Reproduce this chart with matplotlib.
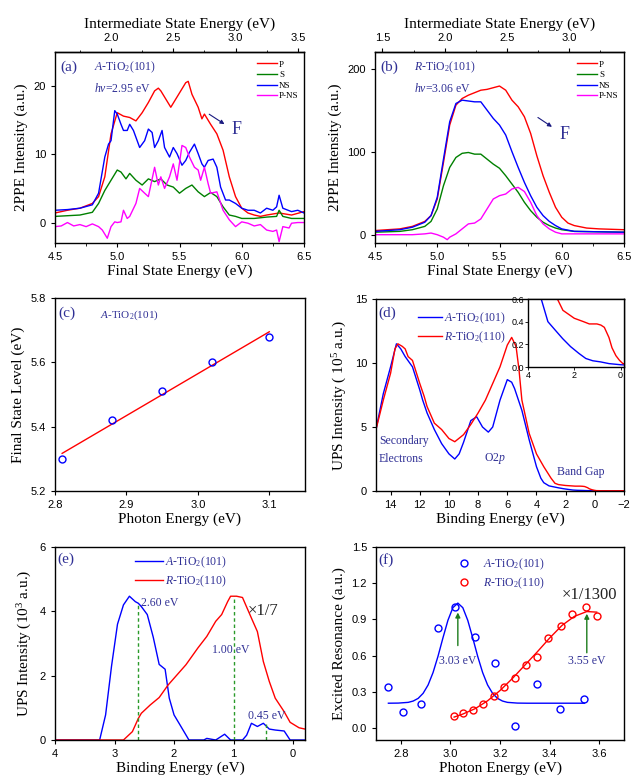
import numpy as np
import matplotlib
matplotlib.use("Agg")
import matplotlib.pyplot as plt

plt.rcParams['font.family'] = ['Liberation Serif', 'DejaVu Serif']
plt.rcParams['mathtext.fontset'] = 'custom'
plt.rcParams['mathtext.rm'] = 'Liberation Serif'
plt.rcParams['mathtext.it'] = 'Liberation Serif:italic'
plt.rcParams['axes.linewidth'] = 1.0

NAVY = '#303095'
DGREEN = '#1c7c1c'

# ---- (a) A-TiO2(101), hv = 2.95 eV ----
hv_a = 2.95
ea_p = [4.5, 4.6, 4.7, 4.8, 4.85, 4.9, 4.95, 5.0, 5.05, 5.1, 5.15, 5.2, 5.25, 5.3, 5.33, 5.35, 5.4, 5.43,
        5.5, 5.55, 5.57, 5.6, 5.65, 5.68, 5.7, 5.75, 5.8, 5.85, 5.9, 5.95, 6.0, 6.05, 6.1, 6.15, 6.2, 6.3, 6.4, 6.5]
a_p = [1.4, 1.8, 2.1, 2.8, 3.8, 6.7, 13.0, 16.1, 15.6, 15.4, 14.9, 16.1, 17.6, 19.3, 19.7, 19.3, 17.8, 16.9,
       19.0, 20.5, 20.7, 18.8, 16.9, 15.2, 15.9, 14.4, 13.0, 10.6, 6.7, 3.8, 2.1, 1.4, 1.1, 0.9, 1.1, 1.4, 1.1, 1.6]
ea_ns = [4.5, 4.6, 4.7, 4.8, 4.85, 4.9, 4.93, 4.95, 4.98, 5.0, 5.03, 5.05, 5.08, 5.1, 5.13, 5.18, 5.22, 5.25,
         5.28, 5.3, 5.33, 5.36, 5.38, 5.42, 5.45, 5.48, 5.52, 5.55, 5.58, 5.62, 5.65, 5.68, 5.7, 5.73, 5.77,
         5.8, 5.83, 5.87, 5.9, 5.95, 6.0, 6.05, 6.1, 6.15, 6.2, 6.25, 6.28, 6.3, 6.33, 6.4, 6.45, 6.5]
a_ns = [1.8, 1.9, 2.1, 2.6, 4.3, 9.6, 11.5, 12.0, 16.4, 15.9, 14.4, 13.5, 13.5, 14.4, 13.5, 11.0, 12.0, 13.7,
        13.2, 11.0, 12.0, 13.5, 11.0, 9.6, 11.0, 10.1, 8.4, 9.1, 10.3, 11.5, 10.1, 8.6, 8.1, 9.1, 9.3,
        8.1, 5.2, 3.3, 3.3, 2.8, 2.1, 1.8, 1.8, 1.4, 2.1, 1.8, 2.3, 4.0, 2.1, 1.6, 1.8, 1.4]
ea_s = [4.5, 4.6, 4.7, 4.8, 4.85, 4.9, 4.95, 5.0, 5.03, 5.07, 5.1, 5.15, 5.2, 5.25, 5.3, 5.35, 5.4, 5.45,
        5.5, 5.55, 5.6, 5.65, 5.7, 5.75, 5.8, 5.85, 5.9, 5.95, 6.0, 6.1, 6.2, 6.28, 6.3, 6.33, 6.4, 6.5]
a_s = [0.9, 1.0, 1.1, 1.5, 2.8, 4.7, 6.2, 7.7, 7.4, 6.4, 7.2, 6.2, 5.5, 6.4, 6.0, 6.4, 5.5, 5.2,
       4.3, 5.0, 5.5, 4.5, 3.8, 4.4, 3.8, 2.3, 1.1, 0.9, 0.6, 0.6, 0.8, 0.9, 1.8, 0.9, 0.6, 0.6]
ea_d = [4.5, 4.55, 4.6, 4.65, 4.7, 4.75, 4.8, 4.85, 4.88, 4.92, 4.95, 4.98, 5.0, 5.03, 5.05, 5.08, 5.1,
        5.15, 5.18, 5.22, 5.25, 5.3, 5.33, 5.35, 5.38, 5.42, 5.45, 5.48, 5.52, 5.55, 5.58, 5.62, 5.65,
        5.67, 5.7, 5.73, 5.75, 5.8, 5.85, 5.9, 5.95, 6.0, 6.05, 6.1, 6.15, 6.2, 6.25, 6.28, 6.3, 6.33,
        6.38, 6.4, 6.45, 6.5]
a_d = [-0.6, -0.5, 0.0, -0.5, -0.3, -0.6, -0.2, -0.6, -1.1, -2.3, -0.6, 0.1, 0.0, 0.1, 1.8, 0.6, 0.9,
       2.8, 5.0, 4.3, 3.8, 8.1, 5.5, 6.7, 5.0, 6.7, 8.6, 6.2, 11.3, 11.0, 9.6, 8.1, 7.7,
       6.2, 8.1, 5.7, 4.3, 4.5, 1.8, 0.4, -0.6, 0.1, -0.1, -0.5, -0.3, -1.1, -1.3, -1.1, -2.8, -0.6,
       -0.8, -0.1, 0.0, 0.0]

# ---- (b) R-TiO2, hv = 3.06 eV ----
hv_b = 3.06
eb_p = [4.5, 4.7, 4.8, 4.9, 4.95, 5.0, 5.05, 5.1, 5.15, 5.2, 5.25, 5.3, 5.35, 5.4, 5.45, 5.5, 5.55, 5.6,
        5.65, 5.7, 5.75, 5.8, 5.85, 5.9, 5.95, 6.0, 6.05, 6.1, 6.2, 6.3, 6.5]
b_p = [5, 7, 10, 16, 23, 43, 87, 132, 156, 164, 168, 171, 174, 175, 177, 179, 174, 162,
       154, 142, 122, 95, 71, 51, 33, 21, 14, 11, 8, 7, 6]
eb_ns = [4.5, 4.7, 4.8, 4.9, 4.95, 5.0, 5.05, 5.1, 5.15, 5.2, 5.25, 5.3, 5.35, 5.4, 5.45, 5.5, 5.55,
         5.6, 5.65, 5.7, 5.75, 5.8, 5.85, 5.9, 5.95, 6.0, 6.1, 6.5]
b_ns = [4, 6, 9, 15, 23, 45, 91, 136, 158, 162, 161, 160, 160, 150, 140, 132, 120,
        100, 81, 63, 47, 33, 23, 16, 11, 7, 4, 3]
eb_s = [4.5, 4.7, 4.8, 4.9, 4.95, 5.0, 5.05, 5.1, 5.15, 5.2, 5.25, 5.3, 5.35, 5.4, 5.45, 5.5, 5.55, 5.6,
        5.65, 5.7, 5.75, 5.8, 5.85, 5.9, 5.95, 6.0, 6.1, 6.5]
b_s = [3, 4, 6, 10, 16, 31, 59, 81, 93, 98, 99, 97, 97, 91, 85, 80, 71, 61,
       51, 39, 29, 21, 15, 11, 8, 6, 4, 3]
eb_d = [4.5, 4.8, 4.9, 4.95, 5.0, 5.05, 5.08, 5.1, 5.15, 5.2, 5.25, 5.3, 5.35, 5.4, 5.45, 5.5, 5.55,
        5.6, 5.65, 5.7, 5.75, 5.8, 5.85, 5.9, 5.95, 6.0, 6.1, 6.5]
b_d = [0, 0, 1, 2, 0, -3, -6, -3, 1, 7, 13, 14, 19, 31, 43, 47, 49,
       55, 57, 52, 39, 23, 13, 7, 3, 1, 1, 1]

# ---- (c) final state level vs photon energy ----
hv_c = [2.81, 2.88, 2.95, 3.02, 3.10]
fs_c = [5.30, 5.42, 5.51, 5.60, 5.68]
fit_c_x = [2.81, 3.10]
fit_c_y = [5.317, 5.695]

# ---- (d) UPS spectra ----
be_a = [15, 14.5, 14, 13.6, 13.3, 13, 12.5, 12, 11.8, 11.5, 11, 10.5, 10, 9.6, 9.3, 9, 8.5, 8.1, 7.7,
        7.3, 7, 6.5, 6, 5.7, 5.5, 5, 4.5, 4, 3.7, 3.5, 3.14, 2.8, 2.5, 2.16, 1.8, 1.5, 1.2, 0.86, 0.5,
        0, -1, -2]
ups_a = [4.8, 7.6, 9.7, 11.5, 11.1, 10.5, 9.7, 7.9, 7.1, 6.1, 4.8, 3.7, 2.9, 2.5, 2.9, 3.8, 5.5, 5.8, 5.0,
         4.6, 5.0, 7.1, 8.7, 8.5, 8.0, 6.3, 4.0, 1.9, 1.0, 0.65, 0.40, 0.32, 0.25, 0.18, 0.12, 0.075,
         0.055, 0.045, 0.03, 0.02, 0.01, 0.01]
be_r = [15, 14.5, 14, 13.7, 13.5, 13.2, 13, 12.8, 12.5, 12, 11.7, 11.5, 11, 10.5, 10, 9.6, 9, 8.5, 8,
        7.5, 7, 6.5, 6, 5.7, 5.4, 5.2, 5, 4.5, 4, 3.5, 3, 2.73, 2.49, 2.0, 1.6, 1.35, 1.02, 0.85, 0.7,
        0.5, 0.37, 0.2, 0.05, -0.1, -0.5, -2]
ups_r = [4.8, 7.1, 9.2, 11.1, 11.5, 11.3, 11.1, 10.5, 10.2, 8.4, 7.4, 6.6, 5.3, 4.8, 4.1, 3.85, 4.4, 5.2,
         6.1, 7.1, 8.4, 9.7, 11.4, 12.0, 11.3, 9.5, 7.1, 4.5, 2.9, 1.9, 1.0, 0.6, 0.5, 0.43, 0.40, 0.38,
         0.38, 0.37, 0.35, 0.26, 0.17, 0.10, 0.06, 0.03, 0.02, 0.02]

# ---- (e) band gap region ----
ge_a = [4, 3.5, 3.25, 3.15, 3.05, 2.95, 2.85, 2.75, 2.65, 2.6, 2.55, 2.45, 2.35, 2.25, 2.15, 2.08, 2.0,
        1.9, 1.75, 1.5, 1.45, 1.3, 1.15, 1.05, 0.85, 0.78, 0.7, 0.6, 0.5, 0.4, 0.3, 0.15, 0.05, -0.2]
gap_a = [0, 0, 0, 0.78, 2.3, 3.6, 4.2, 4.47, 4.3, 4.25, 4.15, 3.9, 3.2, 2.35, 2.2, 1.3, 0.78,
         0.47, 0, 0, 0.05, 0, 0.18, 0, 0, 0.15, 0.52, 0.42, 0.52, 0.34, 0.31, 0.28, 0, 0]
ge_r = [4, 2.85, 2.7, 2.6, 2.55, 2.4, 2.25, 2.1, 1.9, 1.8, 1.6, 1.45, 1.3, 1.2, 1.1, 1.05, 0.95, 0.85,
        0.7, 0.6, 0.5, 0.4, 0.3, 0.15, 0.05, -0.1, -0.2]
gap_r = [0, 0, 0.26, 0.67, 0.83, 1.09, 1.32, 1.71, 2.13, 2.34, 2.86, 3.22, 3.69, 3.9, 4.3, 4.47, 4.47,
         4.43, 3.79, 3.37, 2.44, 1.82, 1.3, 0.88, 0.55, 0.38, 0.34]
mark_e = [2.60, 1.00, 0.45]
mark_top = [4.25, 4.47, 0.50]

# ---- (f) excited resonance ----
hv_fa = [2.75, 2.81, 2.88, 2.95, 3.02, 3.10, 3.18, 3.26, 3.35, 3.44, 3.54]
res_a = [0.34, 0.135, 0.20, 0.83, 1.00, 0.75, 0.535, 0.015, 0.365, 0.16, 0.24]
hv_fr = [3.015, 3.05, 3.09, 3.133, 3.175, 3.217, 3.259, 3.305, 3.35, 3.395, 3.445, 3.492, 3.546, 3.59]
res_r = [0.10, 0.12, 0.15, 0.197, 0.264, 0.339, 0.411, 0.519, 0.589, 0.747, 0.847, 0.944, 1.0, 0.928]
fit_a_x = [2.75, 2.79, 2.83, 2.85, 2.87, 2.89, 2.91, 2.93, 2.95, 2.97, 2.99, 3.01, 3.03, 3.05, 3.07,
           3.09, 3.11, 3.13, 3.15, 3.17, 3.19, 3.21, 3.23, 3.27, 3.31, 3.54]
fit_a_y = [0.205, 0.206, 0.212, 0.223, 0.245, 0.287, 0.356, 0.459, 0.594, 0.747, 0.892, 0.997, 1.035,
           0.997, 0.892, 0.747, 0.594, 0.459, 0.356, 0.287, 0.245, 0.223, 0.212, 0.206, 0.205, 0.205]
fit_r_x = [3.015, 3.05, 3.10, 3.15, 3.20, 3.25, 3.30, 3.35, 3.40, 3.45, 3.50, 3.55, 3.59]
fit_r_y = [0.09, 0.115, 0.16, 0.225, 0.31, 0.41, 0.52, 0.63, 0.745, 0.85, 0.925, 0.965, 0.96]

W, H = 631, 778
fig = plt.figure(figsize=(W / 100, H / 100), dpi=100)


def box(l, t, r, b):
    return [l / W, 1 - b / H, (r - l) / W, (b - t) / H]


def style(ax):
    ax.tick_params(direction='out', length=3, width=0.8, labelsize=8,
                   labelfontfamily='Liberation Sans')
    ax.tick_params(which='minor', direction='out', length=1.8, width=0.6)


lab = dict(fontsize=11)
ta = 'TiO$_2$'


def twoppe(ax, hv, curves, ylim, yticks, plabel, sample):
    for x, y, c, l in curves:
        ax.plot(x, y, color=c, lw=1.0, label=l)
    ax.set_xlim(4.5, 6.5)
    ax.set_ylim(*ylim)
    ax.set_yticks(yticks)
    ax.set_xticks([4.5, 5.0, 5.5, 6.0, 6.5])
    ax.set_xticks(np.arange(4.5, 6.51, 0.25), minor=True)
    style(ax)
    ax.set_xlabel('Final State Energy (eV)', labelpad=2, **lab)
    ax.set_ylabel('2PPE Intensity (a.u.)', labelpad=4, **lab)
    sec = ax.secondary_xaxis('top', functions=(lambda x: x - hv, lambda x: x + hv))
    sec.set_xticks([t for t in [1.5, 2.0, 2.5, 3.0, 3.5] if 4.5 - hv - 1e-6 <= t <= 6.5 - hv + 1e-6])
    sec.set_xticks(np.arange(1.5, 3.51, 0.25), minor=True)
    style(sec)
    sec.set_xlabel('Intermediate State Energy (eV)', labelpad=4, **lab)
    ax.text(0.02, 0.92, plabel, transform=ax.transAxes, color=NAVY, fontsize=11, va='center')
    ax.text(0.155, 0.92, sample, transform=ax.transAxes, color=NAVY, fontsize=8.5, va='center')
    ax.text(0.155, 0.81, '$hv$=%.2f eV' % hv, transform=ax.transAxes, color=NAVY, fontsize=8.5,
            va='center')
    ax.legend(loc='upper right', bbox_to_anchor=(1.0, 0.985), frameon=False, fontsize=6.5,
              handlelength=2.2, labelspacing=0.25, handletextpad=0.2, borderaxespad=0.2)


# (a)
ax = fig.add_axes(box(55, 52, 304, 243))
twoppe(ax, hv_a, [(ea_p, a_p, 'red', 'P'), (ea_s, a_s, 'green', 'S'), (ea_ns, a_ns, 'blue', 'NS'),
                  (ea_d, a_d, 'magenta', 'P-NS')],
       (-3, 25), [0, 10, 20], '(a)', '$\\mathit{A}$-' + ta + '(101)')
ax.annotate('', xy=(5.88, 14.2), xytext=(5.72, 16.1),
            arrowprops=dict(arrowstyle='-|>', color='#1a1a80', lw=0.8, mutation_scale=6))
ax.text(5.92, 13.6, 'F', color=NAVY, fontsize=13, va='center')

# (b)
ax = fig.add_axes(box(375, 52, 624, 243))
twoppe(ax, hv_b, [(eb_p, b_p, 'red', 'P'), (eb_s, b_s, 'green', 'S'), (eb_ns, b_ns, 'blue', 'NS'),
                  (eb_d, b_d, 'magenta', 'P-NS')],
       (-10, 220), [0, 100, 200], '(b)', '$\\mathit{R}$-' + ta + '(101)')
ax.annotate('', xy=(5.94, 128), xytext=(5.79, 143),
            arrowprops=dict(arrowstyle='-|>', color='#1a1a80', lw=0.8, mutation_scale=6))
ax.text(5.98, 121, 'F', color=NAVY, fontsize=13, va='center')

# (c)
ax = fig.add_axes(box(55, 298, 305, 491))
ax.plot(fit_c_x, fit_c_y, color='red', lw=1.0)
ax.plot(hv_c, fs_c, 'o', mfc='none', mec='blue', ms=5, mew=1.0)
ax.set_xlim(2.8, 3.15)
ax.set_ylim(5.2, 5.8)
ax.set_xticks([2.8, 2.9, 3.0, 3.1])
ax.set_yticks([5.2, 5.4, 5.6, 5.8])
style(ax)
ax.set_xlabel('Photon Energy (eV)', labelpad=2, **lab)
ax.set_ylabel('Final State Level (eV)', labelpad=4, **lab)
ax.text(0.015, 0.92, '(c)', transform=ax.transAxes, color=NAVY, fontsize=11, va='center')
ax.text(0.18, 0.91, '$\\mathit{A}$-' + ta + '(101)', transform=ax.transAxes, color=NAVY,
        fontsize=8, va='center')

# (d)
ax = fig.add_axes(box(376, 299, 624, 491))
ax.plot(be_a, ups_a, color='blue', lw=1.0, label='$\\mathit{A}$-' + ta + '(101)')
ax.plot(be_r, ups_r, color='red', lw=1.0, label='$\\mathit{R}$-' + ta + '(110)')
ax.set_xlim(15, -2)
ax.set_ylim(0, 15)
ax.set_xticks([14, 12, 10, 8, 6, 4, 2, 0, -2])
ax.set_yticks([0, 5, 10, 15])
style(ax)
ax.set_xlabel('Binding Energy (eV)', labelpad=2, **lab)
ax.set_ylabel('UPS Intensity ( 10$^5$ a.u.)', labelpad=4, **lab)
ax.text(0.01, 0.925, '(d)', transform=ax.transAxes, color=NAVY, fontsize=11, va='center')
ax.legend(loc='upper left', bbox_to_anchor=(0.15, 0.965), frameon=False, fontsize=8.5,
          labelcolor=NAVY, handlelength=2.0, labelspacing=0.3, handletextpad=0.2, borderaxespad=0)
ax.text(14.8, 3.9, 'Secondary', color=NAVY, fontsize=8.5, va='center')
ax.text(14.8, 2.5, 'Electrons', color=NAVY, fontsize=8.5, va='center')
ax.text(7.6, 2.5, 'O2$p$', color=NAVY, fontsize=8.5, va='center')
ax.text(2.6, 1.5, 'Band Gap', color=NAVY, fontsize=8.5, va='center')

ins = fig.add_axes(box(528, 299, 624, 367))
ins.plot(be_a, ups_a, color='blue', lw=1.0)
ins.plot(be_r, ups_r, color='red', lw=1.0)
ins.set_xlim(4, -0.15)
ins.set_ylim(0, 0.6)
ins.set_xticks([4, 2, 0])
ins.set_yticks([0.0, 0.2, 0.4, 0.6])
ins.yaxis.set_major_formatter(matplotlib.ticker.FormatStrFormatter('%.1f'))
ins.tick_params(direction='out', length=2, width=0.6, labelsize=6.5, pad=1,
                labelfontfamily='Liberation Sans')

# (e)
ax = fig.add_axes(box(55, 547, 305, 740))
ax.plot(ge_a, gap_a, color='blue', lw=1.0, label='$\\mathit{A}$-' + ta + '(101)')
ax.plot(ge_r, gap_r, color='red', lw=1.0, label='$\\mathit{R}$-' + ta + '(110)')
for xe, yt in zip(mark_e, mark_top):
    ax.plot([xe, xe], [0, yt], color='#2a9a2a', lw=1.0, ls=(0, (2.5, 2)))
ax.set_xlim(4, -0.2)
ax.set_ylim(0, 6)
ax.set_xticks([4, 3, 2, 1, 0])
ax.set_yticks([0, 2, 4, 6])
style(ax)
ax.set_xlabel('Binding Energy (eV)', labelpad=2, **lab)
ax.set_ylabel('UPS Intensity (10$^3$ a.u.)', labelpad=4, **lab)
ax.text(0.01, 0.935, '(e)', transform=ax.transAxes, color=NAVY, fontsize=11, va='center')
ax.legend(loc='upper left', bbox_to_anchor=(0.30, 0.985), frameon=False, fontsize=8.5,
          labelcolor=NAVY, handlelength=2.4, labelspacing=0.3, handletextpad=0.2, borderaxespad=0)
ax.text(2.55, 4.25, '2.60 eV', color=NAVY, fontsize=8.5, va='center')
ax.text(1.05, 2.8, '1.00 eV', color=NAVY, fontsize=8.5, va='center', ha='center')
ax.text(0.45, 0.75, '0.45 eV', color=NAVY, fontsize=8.5, va='center', ha='center')
ax.text(0.5, 4.0, '\u00d71/7', color='#222222', fontsize=12, va='center', ha='center')

# (f)
ax = fig.add_axes(box(376, 547, 624, 740))
ax.plot(fit_a_x, fit_a_y, color='blue', lw=1.0)
ax.plot(fit_r_x, fit_r_y, color='red', lw=1.0)
ax.plot(hv_fa, res_a, 'o', mfc='none', mec='blue', ms=5, mew=1.0, label='$\\mathit{A}$-' + ta + '(101)')
ax.plot(hv_fr, res_r, 'o', mfc='none', mec='red', ms=5, mew=1.0, label='$\\mathit{R}$-' + ta + '(110)')
ax.annotate('', xy=(3.03, 0.98), xytext=(3.03, 0.66),
            arrowprops=dict(arrowstyle='-|>', color=DGREEN, lw=1.0, mutation_scale=7))
ax.annotate('', xy=(3.55, 0.97), xytext=(3.55, 0.60),
            arrowprops=dict(arrowstyle='-|>', color=DGREEN, lw=1.0, mutation_scale=7))
ax.text(3.03, 0.555, '3.03 eV', color=NAVY, fontsize=8.5, va='center', ha='center')
ax.text(3.55, 0.555, '3.55 eV', color=NAVY, fontsize=8.5, va='center', ha='center')
ax.text(3.56, 1.10, '\u00d71/1300', color='#222222', fontsize=12, va='center', ha='center')
ax.set_xlim(2.7, 3.7)
ax.set_ylim(-0.1, 1.5)
ax.set_xticks([2.8, 3.0, 3.2, 3.4, 3.6])
ax.set_yticks([0.0, 0.3, 0.6, 0.9, 1.2, 1.5])
ax.yaxis.set_major_formatter(matplotlib.ticker.FormatStrFormatter('%.1f'))
style(ax)
ax.set_xlabel('Photon Energy (eV)', labelpad=2, **lab)
ax.set_ylabel('Excited Resonance (a.u.)', labelpad=4, **lab)
ax.text(0.01, 0.935, '(f)', transform=ax.transAxes, color=NAVY, fontsize=11, va='center')
ax.legend(loc='upper left', bbox_to_anchor=(0.30, 0.975), frameon=False, fontsize=8.5,
          labelcolor=NAVY, handlelength=1.5, labelspacing=0.3, handletextpad=0.9, borderaxespad=0)

fig.savefig('out.png', dpi=100)
